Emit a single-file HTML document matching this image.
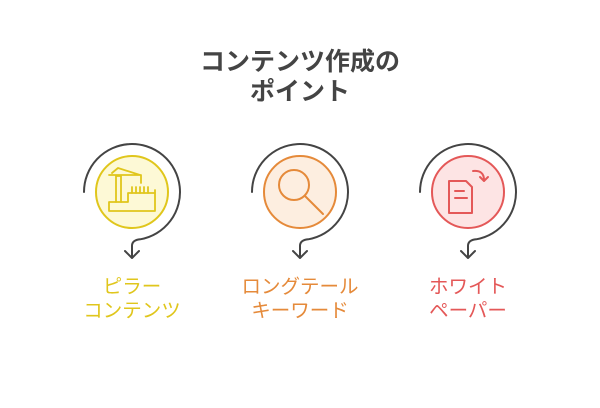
<!DOCTYPE html>
<html><head><meta charset="utf-8"><style>
body{margin:0;width:600px;height:408px;background:#fff;overflow:hidden;font-family:"Liberation Sans","Noto Sans CJK JP",sans-serif}
.t{position:absolute;left:0;width:600px;text-align:center;font-weight:bold;color:#444;font-size:25px;line-height:30px;top:47px}
.l{position:absolute;width:200px;text-align:center;font-size:19.5px;line-height:24px;top:275px}
</style></head><body>
<div class="t">コンテンツ作成の<br>ポイント</div>
<svg width="600" height="408" style="position:absolute;left:0;top:0" fill="none" stroke-linecap="round" stroke-linejoin="round">
<g stroke="#444" stroke-width="2">
<path d="M84 192 A48 48 0 1 1 140.3 239.3 Q132 240 132 246 L132 258 M125 251 L132 258 L139 251"/>
<path d="M252 192 A48 48 0 1 1 308.3 239.3 Q300 240 300 246 L300 258 M293 251 L300 258 L307 251"/>
<path d="M420 192 A48 48 0 1 1 476.3 239.3 Q468 240 468 246 L468 258 M461 251 L468 258 L475 251"/>
</g>
<circle cx="132" cy="192" r="36" fill="#fdf9d6" stroke="#e0c61c" stroke-width="2"/>
<circle cx="300" cy="192" r="36" fill="#fdeee0" stroke="#e58a3a" stroke-width="2"/>
<circle cx="468" cy="192" r="36" fill="#fde4e4" stroke="#e45858" stroke-width="2"/>
<g stroke="#e0c61c" stroke-width="1.8">
<path d="M109 211 L109 202 L128 202 L128 193 L155 193 L155 211 Z"/>
<path d="M116 202 L116 176 L121 176 L121 202"/>
<path d="M109 175 L141 175 L141 183 M112 173 L118 168 L140 175"/>
<path d="M132 193 L132 187 M136 193 L136 187 M140 193 L140 187 M144 193 L144 187 M148 193 L148 187 M155 193 L155 190"/>
</g>
<g stroke="#e58a3a" stroke-width="2">
<circle cx="294" cy="185" r="15"/>
<path d="M305 196 L323 214"/>
</g>
<g stroke="#e45858" stroke-width="2">
<path d="M449 181 L466 181 L472 187 L472 213 L449 213 Z"/>
<path d="M455 191 L464 191 M455 198 L467 198"/>
<path d="M473 171 Q484 170 484 180 M480 177 L484 181 L488 177"/>
</g>
</svg>
<div class="l" style="left:32px;color:#e0c61c">ピラー<br>コンテンツ</div>
<div class="l" style="left:200px;color:#e58a3a">ロングテール<br>キーワード</div>
<div class="l" style="left:368px;color:#e45858">ホワイト<br>ペーパー</div>
</body></html>
